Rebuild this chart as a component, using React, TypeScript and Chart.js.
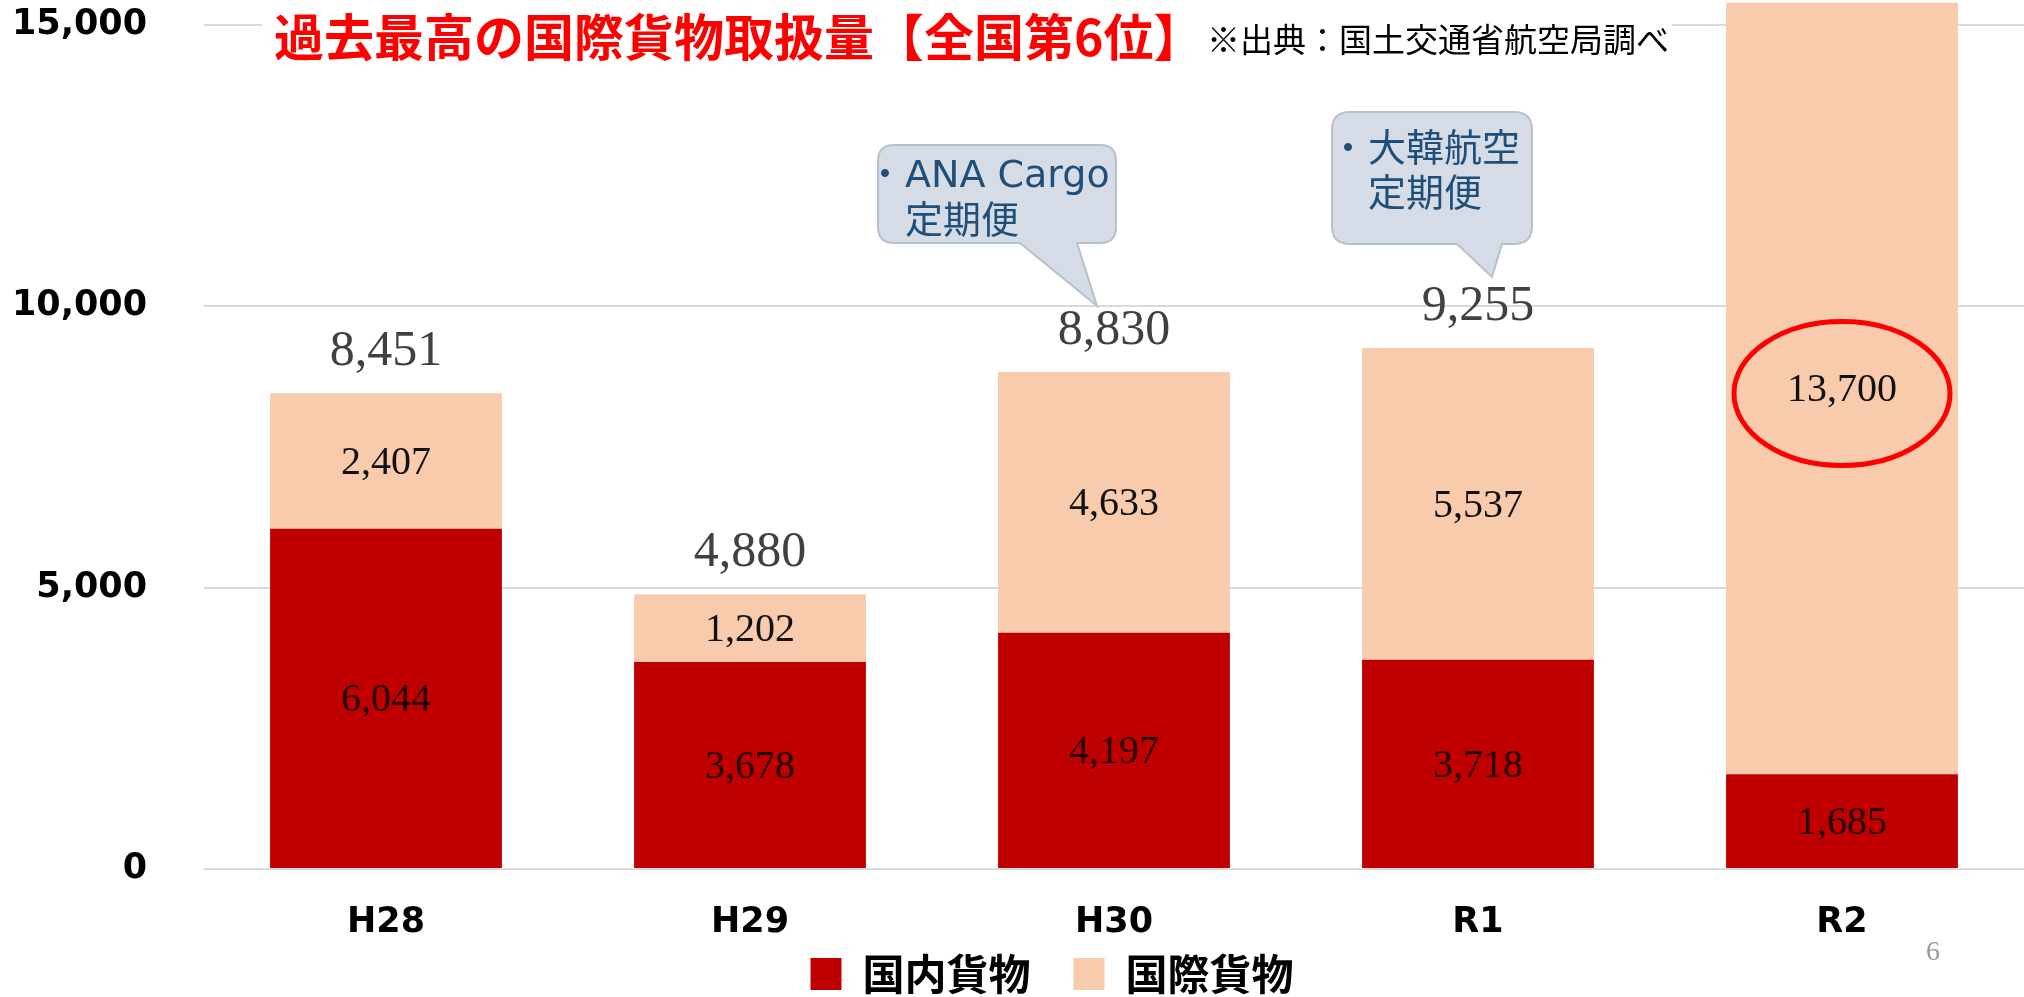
import React, { useEffect, useRef } from "react";
import { Chart, registerables } from "chart.js";

Chart.register(...registerables);

const categories = ["H28", "H29", "H30", "R1", "R2"];
const domesticCargo = [6044, 3678, 4197, 3718, 1685];
const internationalCargo = [2407, 1202, 4633, 5537, 13700];
const showTotal = [true, true, true, true, false];
const yTickValues = [0, 5000, 10000, 15000];
const seriesNames = ["国内貨物", "国際貨物"];
const titleText = "過去最高の国際貨物取扱量【全国第6位】";
const sourceText = "※出典：国土交通省航空局調べ";
const calloutIndices = [2, 3];
const calloutLines = [
  ["ANA Cargo", "定期便"],
  ["大韓航空", "定期便"],
];
const highlightIndex = 4;
const pageNumber = "6";

const fmt = (v: number) => v.toLocaleString("en-US");

function bubblePath(
  ctx: CanvasRenderingContext2D,
  x: number, y: number, w: number, h: number, r: number,
  baseL: number, baseR: number, tipX: number, tipY: number
) {
  ctx.beginPath();
  ctx.moveTo(x + r, y);
  ctx.lineTo(x + w - r, y);
  ctx.quadraticCurveTo(x + w, y, x + w, y + r);
  ctx.lineTo(x + w, y + h - r);
  ctx.quadraticCurveTo(x + w, y + h, x + w - r, y + h);
  ctx.lineTo(baseR, y + h);
  ctx.lineTo(tipX, tipY);
  ctx.lineTo(baseL, y + h);
  ctx.lineTo(x + r, y + h);
  ctx.quadraticCurveTo(x, y + h, x, y + h - r);
  ctx.lineTo(x, y + r);
  ctx.quadraticCurveTo(x, y, x + r, y);
  ctx.closePath();
}

const overlayPlugin = {
  id: "overlay",
  afterLayout(chart: any) {
    // let tick labels extend beyond the tight axis boxes
    if (chart.scales.y) chart.scales.y.left = 0;
    if (chart.scales.x) chart.scales.x.bottom = chart.height;
  },
  afterDatasetsDraw(chart: any) {
    const ctx: CanvasRenderingContext2D = chart.ctx;
    const metaD = chart.getDatasetMeta(0);
    const metaI = chart.getDatasetMeta(1);
    ctx.save();

    // segment labels
    ctx.textAlign = "center";
    ctx.textBaseline = "alphabetic";
    ctx.font = "40px 'Liberation Serif'";
    metaD.data.forEach((el: any, i: number) => {
      const cy = (el.y + el.base) / 2;
      ctx.fillStyle = "#220000";
      ctx.fillText(fmt(domesticCargo[i]), el.x, cy + 13);
    });
    metaI.data.forEach((el: any, i: number) => {
      const cy = (el.y + el.base) / 2;
      ctx.fillStyle = "#111111";
      ctx.fillText(fmt(internationalCargo[i]), el.x, cy + 13);
    });

    // totals
    ctx.font = "50px 'Liberation Serif'";
    ctx.fillStyle = "#404040";
    metaI.data.forEach((el: any, i: number) => {
      if (!showTotal[i]) return;
      ctx.fillText(fmt(domesticCargo[i] + internationalCargo[i]), el.x, el.y - 28);
    });

    // highlight ellipse
    const hl = metaI.data[highlightIndex];
    if (hl) {
      const cy = (hl.y + hl.base) / 2 + 5;
      ctx.beginPath();
      ctx.ellipse(hl.x, cy, 108, 72, 0, 0, Math.PI * 2);
      ctx.strokeStyle = "#FF0000";
      ctx.lineWidth = 5;
      ctx.stroke();
    }

    // callouts
    const boxes = [
      { x: 878, y: 145, w: 238, h: 98, r: 16, bl: 1020, br: 1077, tdx: -17, tdy: -66, textX: 905, bulletX: 885, l1: 177, l2: 223 },
      { x: 1332, y: 112, w: 200, h: 132, r: 18, bl: 1457, br: 1502, tdx: 14, tdy: -71, textX: 1368, bulletX: 1348, l1: 151, l2: 196 },
    ];
    calloutIndices.forEach((idx, k) => {
      const el = metaI.data[idx];
      const b = boxes[k];
      const tipX = el.x + b.tdx;
      const tipY = el.y + b.tdy;
      bubblePath(ctx, b.x, b.y, b.w, b.h, b.r, b.bl, b.br, tipX, tipY);
      ctx.fillStyle = "#D5DCE6";
      ctx.fill();
      ctx.strokeStyle = "#B7C0CD";
      ctx.lineWidth = 2;
      ctx.stroke();
      ctx.fillStyle = "#1F4E79";
      ctx.textBaseline = "middle";
      ctx.font = "38px 'DejaVu Sans', 'Noto Sans CJK JP'";
      ctx.textAlign = "center";
      ctx.fillText("・", b.bulletX, b.l1);
      ctx.textAlign = "left";
      ctx.fillText(calloutLines[k][0], b.textX, b.l1);
      ctx.fillText(calloutLines[k][1], b.textX, b.l2);
    });

    // title
    ctx.fillStyle = "#FFFFFF";
    ctx.fillRect(262, 4, 1410, 50);
    ctx.textAlign = "left";
    ctx.textBaseline = "middle";
    ctx.font = "bold 50px 'Noto Sans CJK JP'";
    ctx.fillStyle = "#FF0000";
    ctx.fillText(titleText, 274, 37);
    ctx.font = "33px 'Noto Sans CJK JP'";
    ctx.fillStyle = "#000000";
    ctx.fillText(sourceText, 1207, 39);

    // page number
    ctx.textAlign = "center";
    ctx.font = "28px 'Liberation Serif'";
    ctx.fillStyle = "#9A9A9A";
    ctx.fillText(pageNumber, 1933, 953);

    ctx.restore();
  },
};

export default function App() {
  const canvasRef = useRef<HTMLCanvasElement | null>(null);

  useEffect(() => {
    document.body.style.margin = "0";
    const canvas = canvasRef.current;
    if (!canvas) return;
    const chart = new Chart(canvas, {
      type: "bar",
      data: {
        labels: categories,
        datasets: [
          {
            label: seriesNames[0],
            data: domesticCargo,
            backgroundColor: "#C00000",
            borderWidth: 0,
            barPercentage: 0.637,
            categoryPercentage: 1,
          },
          {
            label: seriesNames[1],
            data: internationalCargo,
            backgroundColor: "#F8CBAD",
            borderWidth: 0,
            barPercentage: 0.637,
            categoryPercentage: 1,
          },
        ],
      },
      options: {
        responsive: false,
        animation: false,
        devicePixelRatio: 1,
        layout: { padding: { top: 2, left: 80, right: 0, bottom: -8 } },
        plugins: {
          tooltip: { enabled: false },
          title: { display: false },
          legend: {
            display: true,
            position: "bottom",
            labels: {
              boxWidth: 31,
              boxHeight: 32,
              padding: 43,
              color: "#000000",
              font: { family: "'Noto Sans CJK JP'", size: 42, weight: "bold" },
            },
          },
        },
        scales: {
          x: {
            stacked: true,
            grid: { display: false, drawTicks: false },
            border: { display: false },
            ticks: {
              padding: 33,
              color: "#000000",
              font: { family: "'DejaVu Sans'", size: 35, weight: "bold" },
            },
            afterFit: (scale: any) => {
              scale.height = 41;
              scale.paddingLeft = 0;
              scale.paddingRight = 0;
            },
          },
          y: {
            stacked: true,
            min: 0,
            max: 15400,
            afterBuildTicks: (scale: any) => {
              scale.ticks = yTickValues.map((v) => ({ value: v }));
            },
            grid: { color: "#DADADA", lineWidth: 2, drawTicks: false },
            border: { display: false },
            ticks: {
              padding: 57,
              color: "#000000",
              font: { family: "'DejaVu Sans'", size: 35, weight: "bold" },
              callback: (v: any) => fmt(Number(v)),
            },
            afterFit: (scale: any) => {
              scale.width = 124;
              scale.paddingTop = 0;
              scale.paddingBottom = 0;
            },
          },
        },
      },
      plugins: [overlayPlugin],
    } as any);
    return () => chart.destroy();
  }, []);

  return (
    <canvas
      ref={canvasRef}
      width={2024}
      height={997}
      style={{ display: "block", width: "2024px", height: "997px" }}
    />
  );
}
